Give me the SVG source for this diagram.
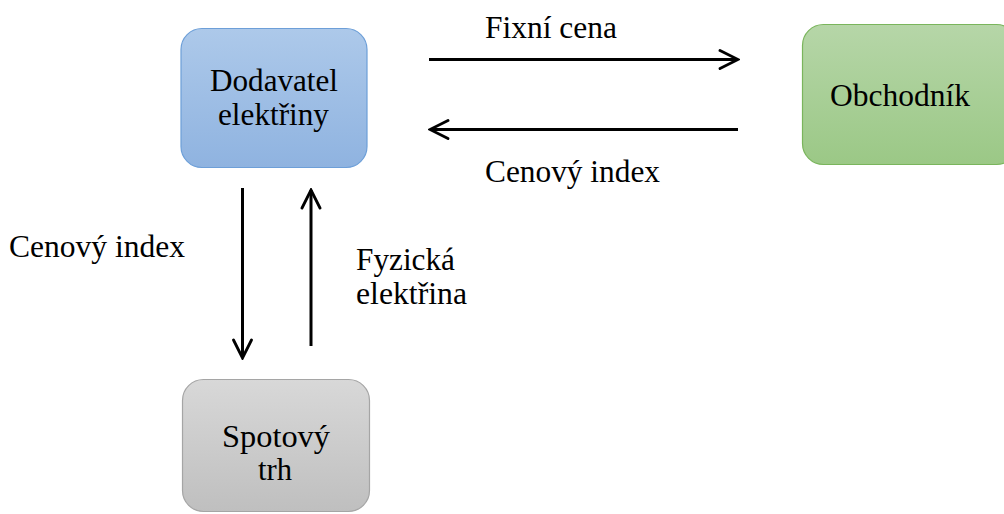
<svg xmlns="http://www.w3.org/2000/svg" width="1004" height="514" viewBox="0 0 1004 514">
  <style>
    .lbl { font-family: "Liberation Serif", "Times New Roman", serif; font-size: 31.5px; fill: #000; }
    .box { stroke-width: 1.2; }
    .conn { stroke: #000; stroke-width: 3; fill: none; }
  </style>
  <defs>
    <linearGradient id="gBlue" x1="0" y1="0" x2="0" y2="1">
      <stop offset="0" stop-color="#adc9ea"/>
      <stop offset="1" stop-color="#8fb3e0"/>
    </linearGradient>
    <linearGradient id="gGreen" x1="0" y1="0" x2="0" y2="1">
      <stop offset="0" stop-color="#b6d6a8"/>
      <stop offset="1" stop-color="#9bc886"/>
    </linearGradient>
    <linearGradient id="gGray" x1="0" y1="0" x2="0" y2="1">
      <stop offset="0" stop-color="#d8d8d8"/>
      <stop offset="1" stop-color="#bfbfbf"/>
    </linearGradient>
    <marker id="chev" viewBox="0 0 10 10" refX="9" refY="5" markerWidth="7.5" markerHeight="8.5" orient="auto" markerUnits="strokeWidth">
      <path d="M1,1 L9,5 L1,9" fill="none" stroke="#000" stroke-width="1.25" stroke-linecap="round" stroke-linejoin="miter"/>
    </marker>
  </defs>

  <rect width="1004" height="514" fill="#fff"/>

  <g id="node-dodavatel">
    <rect class="box" x="181" y="28.5" width="186" height="139" rx="21" fill="url(#gBlue)" stroke="#6d9fd8"/>
    <text class="lbl" x="210" y="91" textLength="128" lengthAdjust="spacingAndGlyphs">Dodavatel</text>
    <text class="lbl" x="218" y="125" textLength="111" lengthAdjust="spacingAndGlyphs">elektřiny</text>
  </g>

  <g id="node-obchodnik">
    <rect class="box" x="802.5" y="24.5" width="215" height="140" rx="21" fill="url(#gGreen)" stroke="#7ab55c"/>
    <text class="lbl" x="830" y="105.5" textLength="140" lengthAdjust="spacingAndGlyphs">Obchodník</text>
  </g>

  <g id="node-spot">
    <rect class="box" x="182.5" y="379.5" width="187" height="132" rx="21" fill="url(#gGray)" stroke="#a5a5a5"/>
    <text class="lbl" x="222" y="446.5" textLength="108" lengthAdjust="spacingAndGlyphs">Spotový</text>
    <text class="lbl" x="258" y="480" textLength="34" lengthAdjust="spacingAndGlyphs">trh</text>
  </g>

  <g id="connectors">
    <line class="conn" x1="429" y1="59.5" x2="738" y2="59.5" marker-end="url(#chev)"/>
    <line class="conn" x1="738" y1="129.5" x2="430" y2="129.5" marker-end="url(#chev)"/>
    <line class="conn" x1="242.5" y1="188" x2="242.5" y2="358" marker-end="url(#chev)"/>
    <line class="conn" x1="311" y1="346" x2="311" y2="190" marker-end="url(#chev)"/>
    <text class="lbl" x="485" y="38" textLength="132" lengthAdjust="spacingAndGlyphs">Fixní cena</text>
    <text class="lbl" x="485" y="182" textLength="175" lengthAdjust="spacingAndGlyphs">Cenový index</text>
    <text class="lbl" x="9" y="257" textLength="176" lengthAdjust="spacingAndGlyphs">Cenový index</text>
    <text class="lbl" x="356" y="270" textLength="99" lengthAdjust="spacingAndGlyphs">Fyzická</text>
    <text class="lbl" x="356" y="304" textLength="111" lengthAdjust="spacingAndGlyphs">elektřina</text>
  </g>
</svg>
